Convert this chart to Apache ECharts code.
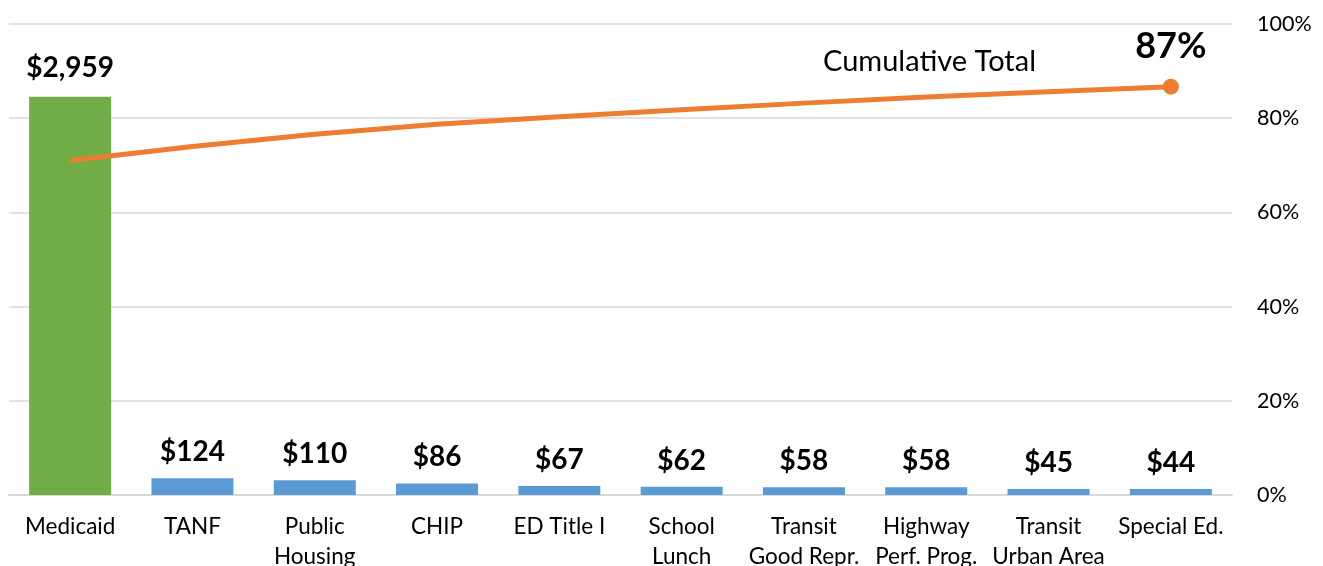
<!DOCTYPE html>
<html>
<head>
<meta charset="utf-8">
<script src="https://cdn.jsdelivr.net/npm/echarts@6/dist/echarts.min.js"></script>
<style>
  html, body { margin: 0; padding: 0; background: #fff; }
  #chart { width: 1323px; height: 566px; }
</style>
</head>
<body>
<div id="chart"></div>
<script>
// programs and spending (billions)
var categories = ['Medicaid', 'TANF', 'Public\nHousing', 'CHIP', 'ED Title I', 'School\nLunch',
  'Transit\nGood Repr.', 'Highway\nPerf. Prog.', 'Transit\nUrban Area', 'Special Ed.'];
var spending = [2959, 124, 110, 86, 67, 62, 58, 58, 45, 44];
// cumulative share
var cumulative = [0.71, 0.74, 0.766, 0.787, 0.803, 0.818, 0.832, 0.845, 0.856, 0.867];

var FONT = 'Lato, "Open Sans", sans-serif';
var chart = echarts.init(document.getElementById('chart'));

var barData = spending.map(function (v, i) {
  return {
    value: v,
    itemStyle: { color: i === 0 ? '#70AD47' : '#5B9BD5' },
    label: { distance: i === 0 ? 15 : 12 }
  };
});

var lineData = cumulative.map(function (v, i) {
  var last = i === cumulative.length - 1;
  return {
    value: v,
    symbol: last ? 'circle' : 'none',
    symbolSize: last ? 16 : 0,
    label: {
      show: last,
      position: 'top',
      distance: 14,
      formatter: Math.round(v * 100) + '%',
      fontSize: 36,
      fontWeight: 'bold',
      color: '#000',
      fontFamily: FONT
    }
  };
});

chart.setOption({
  animation: false,
  title: {
    text: 'Cumulative Total',
    left: 818,
    top: 42,
    textStyle: { fontSize: 29, fontWeight: 'normal', color: '#000', fontFamily: FONT }
  },
  grid: { left: 9, right: 91, top: 24, bottom: 71, outerBoundsMode: 'none' },
  xAxis: {
    type: 'category',
    data: categories,
    axisTick: { show: false },
    axisLine: { lineStyle: { color: '#d9d9d9', width: 2 } },
    axisLabel: {
      interval: 0,
      margin: 17,
      fontSize: 22.5,
      lineHeight: 30,
      color: '#000',
      fontFamily: FONT
    }
  },
  yAxis: [
    { type: 'value', min: 0, max: 3500, show: false, splitLine: { show: false } },
    {
      type: 'value',
      position: 'right',
      min: 0,
      max: 1,
      interval: 0.2,
      axisLine: { show: false },
      axisTick: { show: false },
      splitLine: { lineStyle: { color: '#d9d9d9', width: 1.5 } },
      axisLabel: {
        margin: 25,
        fontSize: 21.5,
        color: '#000',
        fontFamily: FONT,
        formatter: function (v) { return Math.round(v * 100) + '%'; }
      }
    }
  ],
  series: [
    {
      type: 'bar',
      yAxisIndex: 0,
      barWidth: 82,
      data: barData,
      label: {
        show: true,
        position: 'top',
        fontSize: 28,
        fontWeight: 'bold',
        color: '#000',
        fontFamily: FONT,
        formatter: function (p) { return '$' + p.value.toLocaleString('en-US'); }
      }
    },
    {
      type: 'line',
      yAxisIndex: 1,
      data: lineData,
      lineStyle: { color: '#ED7D31', width: 5 },
      itemStyle: { color: '#ED7D31' },
      z: 5
    }
  ]
});
</script>
</body>
</html>
